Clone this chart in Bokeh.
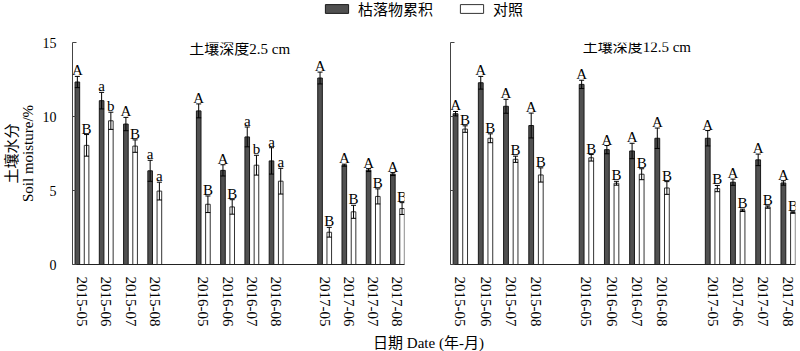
from bokeh.plotting import figure
from bokeh.models import (ColumnDataSource, FixedTicker, Label, LabelSet, Legend,
                          LegendItem, Range1d)
from bokeh.layouts import column, row
from bokeh.embed import file_html
from bokeh.resources import INLINE

# ---------------- data ----------------
dates = ["2015-05", "2015-06", "2015-07", "2015-08",
         "2016-05", "2016-06", "2016-07", "2016-08",
         "2017-05", "2017-06", "2017-07", "2017-08"]
slots = [0, 1, 2, 3, 5, 6, 7, 8, 10, 11, 12, 13]

# soil depth 2.5 cm
litter_25 = [12.33, 11.07, 9.49, 6.33, 10.38, 6.36, 8.62, 7.00, 12.60, 6.71, 6.38, 6.11]
litter_25_err = [0.38, 0.56, 0.45, 0.71, 0.47, 0.38, 0.67, 0.89, 0.40, 0.07, 0.10, 0.10]
control_25 = [8.05, 9.71, 8.00, 4.96, 4.07, 3.89, 6.71, 5.63, 2.18, 3.56, 4.60, 3.78]
control_25_err = [0.73, 0.58, 0.42, 0.60, 0.56, 0.49, 0.67, 0.87, 0.33, 0.44, 0.51, 0.40]
litter_25_letters = ["A", "a", "A", "a", "A", "A", "a", "a", "A", "A", "A", "A"]
control_25_letters = ["B", "b", "B", "a", "B", "B", "b", "a", "B", "B", "B", "B"]

# soil depth 12.5 cm
litter_125 = [10.19, 12.28, 10.69, 9.39, 12.17, 7.76, 7.67, 8.53, 8.53, 5.56, 7.07, 5.51]
litter_125_err = [0.15, 0.43, 0.47, 0.84, 0.28, 0.28, 0.52, 0.69, 0.52, 0.21, 0.39, 0.15]
control_125 = [9.15, 8.53, 7.11, 6.05, 7.21, 5.49, 6.10, 5.17, 5.13, 3.66, 3.88, 3.51]
control_125_err = [0.22, 0.30, 0.21, 0.48, 0.22, 0.13, 0.37, 0.43, 0.21, 0.08, 0.08, 0.05]
litter_125_letters = ["A"] * 12
control_125_letters = ["B"] * 12

y_ticks = [0, 5, 10, 15]
series_names = ["枯落物累积", "对照"]
panel_titles = ["土壤深度2.5 cm", "土壤深度12.5 cm"]
y_label = "土壤水分\nSoil moisture/%"
x_label = "日期 Date (年-月)"

# ---------------- style ----------------
FONT = "Liberation Serif, Noto Sans CJK SC"
LATIN = "Liberation Serif"
DARK = "#505050"
OFF = 0.19
BAR_W = 0.19


def make_panel(width, bl, br, bt, bb, litter, litter_err, control, control_err,
               l_letters, c_letters, title, title_x, title_y, show_labels):
    p = figure(width=width, height=307, x_range=Range1d(-0.39, 13.29),
               y_range=Range1d(0, 15), output_backend="svg", toolbar_location=None,
               min_border_left=bl, min_border_right=br, min_border_top=bt,
               min_border_bottom=bb)
    p.xgrid.visible = False
    p.ygrid.visible = False
    p.outline_line_color = None
    p.background_fill_color = "white"
    p.border_fill_color = "white"

    xl = [s - OFF for s in slots]
    xc = [s + OFF for s in slots]
    src_l = ColumnDataSource(dict(x=xl, top=litter, lo=[v - e for v, e in zip(litter, litter_err)],
                                  hi=[v + e for v, e in zip(litter, litter_err)], lab=l_letters))
    src_c = ColumnDataSource(dict(x=xc, top=control, lo=[v - e for v, e in zip(control, control_err)],
                                  hi=[v + e for v, e in zip(control, control_err)], lab=c_letters))
    p.vbar(x="x", top="top", width=BAR_W, source=src_l, fill_color=DARK,
           line_color="#1a1a1a", line_width=1)
    p.vbar(x="x", top="top", width=BAR_W, source=src_c, fill_color="white",
           line_color="#333333", line_width=1)
    for src in (src_l, src_c):
        p.segment(x0="x", y0="lo", x1="x", y1="hi", source=src, line_color="black",
                  line_width=1)
        p.scatter(x="x", y="hi", source=src, marker="dash", size=5, line_color="black",
                  line_width=1)
        p.scatter(x="x", y="lo", source=src, marker="dash", size=5, line_color="black",
                  line_width=1)
        p.add_layout(LabelSet(x="x", y="hi", text="lab", source=src, text_align="center",
                              text_baseline="bottom", y_offset=-2, text_font=LATIN,
                              text_font_size="15px", text_color="black"))

    p.add_layout(Label(x=title_x, y=title_y, text=title, text_align="center",
                       text_baseline="middle", text_font=FONT, text_font_size="15px",
                       text_color="black"))

    p.xaxis.ticker = FixedTicker(ticks=slots)
    p.xaxis.major_label_overrides = {s: d for s, d in zip(slots, dates)}
    p.xaxis.major_label_orientation = "vertical"
    p.xaxis.major_tick_line_color = None
    p.xaxis.minor_tick_line_color = None
    p.xaxis.major_label_standoff = 6
    p.xaxis.major_label_text_font = LATIN
    p.xaxis.major_label_text_font_size = "15px"
    p.xaxis.major_label_text_color = "black"
    p.xaxis.axis_line_color = "#222222"

    p.yaxis.ticker = FixedTicker(ticks=y_ticks)
    p.yaxis.major_tick_in = 4
    p.yaxis.major_tick_out = 0
    p.yaxis.minor_tick_line_color = None
    p.yaxis.axis_line_color = "#444444"
    p.yaxis.major_tick_line_color = "#444444"
    if show_labels:
        p.yaxis.major_label_standoff = 16
        p.yaxis.major_label_text_font = LATIN
        p.yaxis.major_label_text_font_size = "14px"
        p.yaxis.major_label_text_color = "black"
        p.yaxis.axis_label = y_label
        p.yaxis.axis_label_text_font = FONT
        p.yaxis.axis_label_text_font_size = "15px"
        p.yaxis.axis_label_text_line_height = 1.0
        p.yaxis.axis_label_text_font_style = "normal"
        p.yaxis.axis_label_text_color = "black"
        p.yaxis.axis_label_standoff = 4
    else:
        p.yaxis.major_label_overrides = {t: "" for t in y_ticks}
        p.yaxis.major_label_standoff = 0
    return p


p1 = make_panel(425, 70, 21, 20, 62, litter_25, litter_25_err, control_25, control_25_err,
                litter_25_letters, control_25_letters, panel_titles[0], 6.5, 14.58, True)
p2 = make_panel(375, 25, 5, 10, 65, litter_125, litter_125_err, control_125, control_125_err,
                litter_125_letters, control_125_letters, panel_titles[1], 7.0, 14.69, False)

# legend strip (dummy glyphs placed outside the visible range only feed the legend)
leg = figure(width=800, height=22, output_backend="svg", toolbar_location=None,
             min_border=0, x_axis_type=None, y_axis_type=None,
             x_range=Range1d(0, 1), y_range=Range1d(0, 1))
leg.outline_line_color = None
leg.xgrid.visible = False
leg.ygrid.visible = False
r1 = leg.vbar(x=[-10], top=[-10], width=1, fill_color=DARK, line_color="#1a1a1a")
r2 = leg.vbar(x=[-10], top=[-10], width=1, fill_color="white", line_color="#333333")
legend = Legend(items=[LegendItem(label=series_names[0], renderers=[r1]),
                       LegendItem(label=series_names[1], renderers=[r2])],
                orientation="horizontal", location=(322, 3), glyph_width=29,
                glyph_height=11, label_standoff=7, spacing=24, padding=0, margin=0,
                border_line_color=None, background_fill_alpha=0,
                label_text_font=FONT, label_text_font_size="15px", label_height=11,
                label_text_color="black")
leg.add_layout(legend, "center")

# x axis title strip
lab = figure(width=800, height=22, output_backend="svg", toolbar_location=None,
             min_border=0, x_axis_type=None, y_axis_type=None)
lab.outline_line_color = None
lab.xgrid.visible = False
lab.ygrid.visible = False
lab.add_layout(Label(x=428, y=9, x_units="screen", y_units="screen", text=x_label,
                     text_align="center", text_baseline="middle", text_font=FONT,
                     text_font_size="15px", text_color="black"))

layout = column(leg, row(p1, p2), lab)
open("out.html", "w").write(file_html(layout, INLINE))
